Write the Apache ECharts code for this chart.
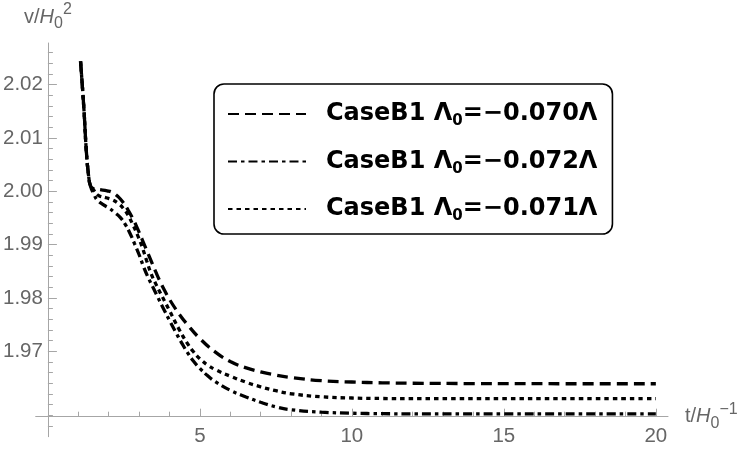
<!DOCTYPE html>
<html>
<head>
<meta charset="utf-8">
<script src="https://cdn.jsdelivr.net/npm/echarts@6/dist/echarts.min.js"></script>
<style>
  html, body { margin: 0; padding: 0; background: #fff; }
  #chart { width: 750px; height: 453px; }
</style>
</head>
<body>
<div id="chart"></div>
<script>
// steep start, the three cases coincide here
const tHead = [1.075, 1.187, 1.262, 1.328, 1.403];
const vHead = [2.02436, 2.01533, 2.00785, 2.00355, 2.00099];

// Λ0 = -0.070Λ (dashed)
const t070 = [1.515, 1.72, 1.95, 2.12, 2.31, 2.48, 2.64, 2.80, 2.95, 3.10, 3.25, 3.40, 3.55, 3.70, 3.85, 4.00, 4.30, 4.60, 5.00, 5.50, 6.00, 6.50, 7.00, 7.50, 8.00, 9.00, 10.0, 11.0, 12.0, 14.0, 17.0, 20.0];
const v070 = [2.00047, 2.00030, 2.00010, 1.99980, 1.99900, 1.99790, 1.99648, 1.99480, 1.99300, 1.99100, 1.98895, 1.98690, 1.98490, 1.98300, 1.98130, 1.97975, 1.97715, 1.97495, 1.97240, 1.96990, 1.96810, 1.96695, 1.96615, 1.96555, 1.96510, 1.96450, 1.96425, 1.96410, 1.96402, 1.96396, 1.96393, 1.96393];

// Λ0 = -0.072Λ (dash-dot)
const t072 = [1.515, 1.62, 1.82, 2.02, 2.21, 2.38, 2.54, 2.70, 2.85, 3.00, 3.15, 3.30, 3.45, 3.60, 3.80, 4.00, 4.20, 4.40, 4.60, 4.80, 5.00, 5.25, 5.50, 6.00, 6.50, 7.00, 7.50, 8.00, 9.00, 10.0, 11.0, 12.0, 20.0];
const v072 = [1.99944, 1.99840, 1.99750, 1.99682, 1.99598, 1.99510, 1.99385, 1.99215, 1.99020, 1.98815, 1.98585, 1.98385, 1.98210, 1.98035, 1.97805, 1.97580, 1.97365, 1.97160, 1.96970, 1.96810, 1.96680, 1.96545, 1.96435, 1.96270, 1.96150, 1.96045, 1.95960, 1.95905, 1.95860, 1.95840, 1.95832, 1.95828, 1.95826];

// Λ0 = -0.071Λ (dotted)
const t071 = [1.515, 1.66, 1.92, 2.12, 2.31, 2.48, 2.64, 2.80, 2.95, 3.10, 3.25, 3.40, 3.55, 3.70, 3.85, 4.00, 4.30, 4.60, 4.80, 5.00, 5.25, 5.50, 6.00, 6.50, 7.00, 7.50, 8.00, 9.00, 10.0, 11.0, 12.0, 20.0];
const v071 = [2.00019, 1.99925, 1.99879, 1.99840, 1.99776, 1.99682, 1.99551, 1.99370, 1.99180, 1.98960, 1.98700, 1.98450, 1.98265, 1.98095, 1.97930, 1.97765, 1.97430, 1.97140, 1.96985, 1.96860, 1.96745, 1.96660, 1.96535, 1.96425, 1.96335, 1.96262, 1.96205, 1.96148, 1.96125, 1.96116, 1.96113, 1.96112];

const caseNames = ['-0.070', '-0.072', '-0.071'];

const xMajorTicks = [5, 10, 15, 20];
const xMinorTicks = [1, 2, 3, 4, 6, 7, 8, 9, 11, 12, 13, 14, 16, 17, 18, 19];
const yMajorTicks = [1.97, 1.98, 1.99, 2.00, 2.01, 2.02];
const yMinorTicks = [1.956, 1.958, 1.960, 1.962, 1.964, 1.966, 1.968, 1.972, 1.974, 1.976, 1.978,
  1.982, 1.984, 1.986, 1.988, 1.992, 1.994, 1.996, 1.998, 2.002, 2.004, 2.006, 2.008,
  2.012, 2.014, 2.016, 2.018, 2.022, 2.024, 2.026];

const axisGray = '#a6a6a6';
const labelGray = '#666666';
const tickFont = 'Liberation Sans, Arial, sans-serif';
const legendFont = 'DejaVu Sans, sans-serif';

function curve(ts, vs) {
  const head = tHead.map((t, i) => [t, vHead[i]]);
  return head.concat(ts.map((t, i) => [t, vs[i]]));
}

const chart = echarts.init(document.getElementById('chart'));

const nameRich = {
  n: {fontFamily: tickFont, fontSize: 20, color: labelGray, lineHeight: 30},
  h: {fontFamily: tickFont, fontSize: 20, color: labelGray, fontStyle: 'italic', lineHeight: 30},
  s: {fontFamily: tickFont, fontSize: 16, color: labelGray, lineHeight: 18, verticalAlign: 'bottom'},
  p: {fontFamily: tickFont, fontSize: 16, color: labelGray, lineHeight: 18, verticalAlign: 'top'},
};

function lineSeries(name, data, dash) {
  return {
    name: name,
    type: 'line',
    data: data,
    showSymbol: false,
    symbol: 'none',
    smooth: 0.45,
    color: '#000',
    lineStyle: {color: '#000', width: 3.3, type: dash, cap: 'butt'},
    z: 5,
  };
}

chart.setOption({
  animation: false,
  backgroundColor: '#fff',
  grid: {left: 33.3, top: 43, width: 634.7, height: 393.7, containLabel: false},
  legend: {
    orient: 'vertical',
    left: 214,
    top: 84,
    padding: [18, 15, 10, 13],
    itemWidth: 78,
    itemHeight: 14,
    itemGap: 20.5,
    borderColor: '#000',
    borderWidth: 1.6,
    borderRadius: 10,
    backgroundColor: '#fff',
    selectedMode: false,
    itemStyle: {opacity: 0},
    data: caseNames,
    formatter: (name) => '{b|CaseB1 Λ}{s|0}{b|=−' + name.slice(1) + 'Λ}',
    textStyle: {
      padding: [0, 0, 0, 15],
      rich: {
        b: {fontFamily: legendFont, fontWeight: 'bold', fontSize: 24, color: '#000', lineHeight: 30},
        s: {fontFamily: legendFont, fontWeight: 'bold', fontSize: 15, color: '#000', lineHeight: 16, verticalAlign: 'bottom'},
      },
    },
  },
  xAxis: [
    {
      type: 'value', min: -0.4, max: 20.4, position: 'bottom', offset: -20,
      axisLine: {onZero: false, lineStyle: {color: axisGray, width: 1}},
      axisTick: {inside: true, length: 8, customValues: xMajorTicks, lineStyle: {color: axisGray}},
      axisLabel: {customValues: xMajorTicks, margin: 9, fontFamily: tickFont, fontSize: 20.5, color: labelGray},
      splitLine: {show: false},
      name: '{n|t/}{h|H}{s|0}{p|−1}',
      nameLocation: 'end',
      nameGap: 17,
      nameTextStyle: {rich: nameRich},
    },
    {
      type: 'value', min: -0.4, max: 20.4, position: 'bottom', offset: -20,
      axisLine: {show: false, onZero: false},
      axisTick: {inside: true, length: 5, customValues: xMinorTicks, lineStyle: {color: axisGray}},
      axisLabel: {show: false},
      splitLine: {show: false},
    },
  ],
  yAxis: [
    {
      type: 'value', min: 1.954, max: 2.0278, position: 'left', offset: -12.2,
      axisLine: {show: true, onZero: false, lineStyle: {color: axisGray, width: 1}},
      axisTick: {show: true, inside: true, length: 9, customValues: yMajorTicks, lineStyle: {color: axisGray}},
      axisLabel: {customValues: yMajorTicks, margin: 5, fontFamily: tickFont, fontSize: 20.5, color: labelGray,
        formatter: (v) => v.toFixed(2)},
      splitLine: {show: false},
      name: '{n|v/}{h|H}{s|0}{p|2}',
      nameLocation: 'end',
      nameGap: 11,
      nameTextStyle: {rich: nameRich},
    },
    {
      type: 'value', min: 1.954, max: 2.0278, position: 'left', offset: -12.2,
      axisLine: {show: false, onZero: false},
      axisTick: {show: true, inside: true, length: 5, customValues: yMinorTicks, lineStyle: {color: axisGray}},
      axisLabel: {show: false},
      splitLine: {show: false},
    },
  ],
  series: [
    lineSeries(caseNames[0], curve(t070, v070), [11, 6]),
    lineSeries(caseNames[1], curve(t072, v072), [9, 4, 3.5, 4]),
    lineSeries(caseNames[2], curve(t071, v071), [4.5, 4]),
  ],
});
</script>
</body>
</html>
